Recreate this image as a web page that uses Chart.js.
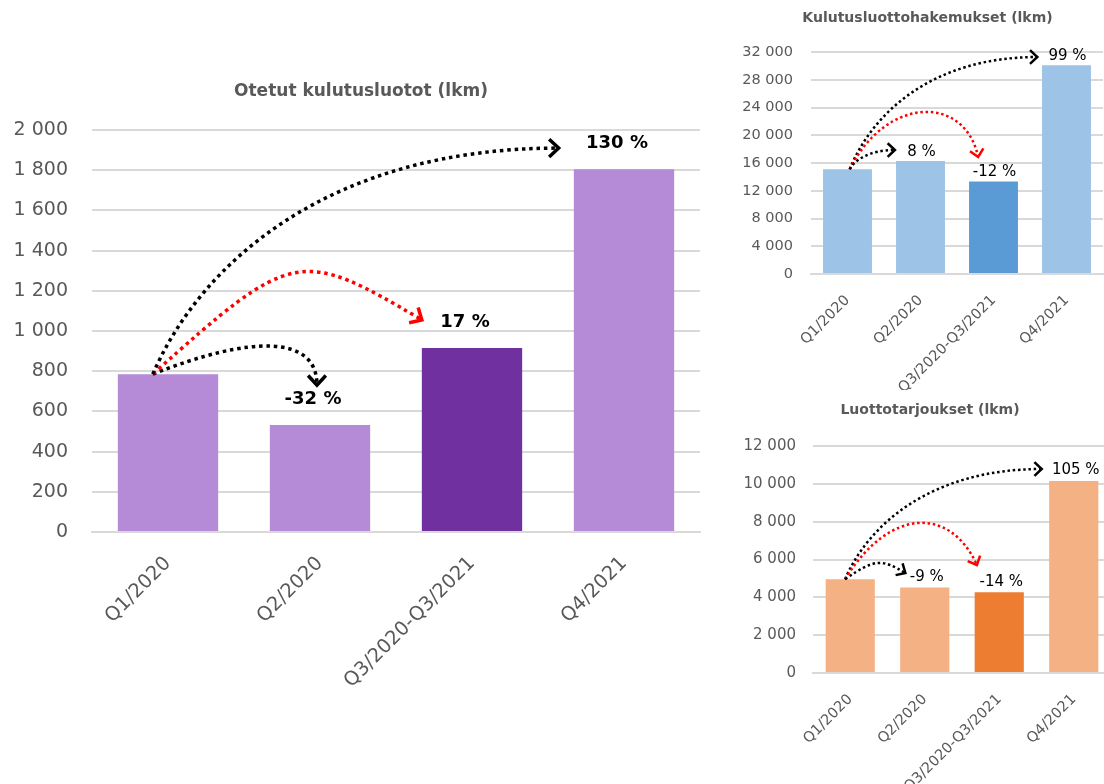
<!DOCTYPE html>
<html>
<head>
<meta charset="utf-8">
<script src="https://cdn.jsdelivr.net/npm/chart.js@4.4.0/dist/chart.umd.min.js"></script>
<style>
  html, body { margin:0; padding:0; background:#fff; overflow:hidden; width:1104px; height:784px; }
  .box { position:absolute; }
</style>
</head>
<body>
<div class="box" style="left:0;top:0;width:720px;height:784px"><canvas id="cOtetut"></canvas></div>
<div class="box" style="left:736px;top:0;width:379px;height:390px"><canvas id="cHakemukset"></canvas></div>
<div class="box" style="left:736px;top:390px;width:379px;height:394px"><canvas id="cTarjoukset"></canvas></div>
<script>
// data
const categories = ['Q1/2020', 'Q2/2020', 'Q3/2020-Q3/2021', 'Q4/2021'];

const otetut = [785, 532, 915, 1805];
const otetutPct = ['', '-32 %', '17 %', '130 %'];

const hakemukset = [15100, 16300, 13350, 30100];
const hakemuksetPct = ['', '8 %', '-12 %', '99 %'];

const tarjoukset = [4960, 4520, 4270, 10150];
const tarjouksetPct = ['', '-9 %', '-14 %', '105 %'];

// arrows: target bar, end point (offset in category widths, value), peak value for arched ones
const otetutArrows = [
  { to: 1, color: '#000', end: [-0.02, 731], peak: 925, a: 0.6, b: 1.0 },
  { to: 2, color: '#ff0000', end: [-0.33, 1055], peak: 1289, a: 0.52, b: 0.55 },
  { to: 3, color: '#000', end: [-0.43, 1910] }
];
const hakemuksetArrows = [
  { to: 3, color: '#000', end: [-0.40, 31280] },
  { to: 2, color: '#ff0000', end: [-0.21, 16865], peak: 23350, a: 0.29, b: 0.9 },
  { to: 1, color: '#000', end: [-0.35, 17870] }
];
const tarjouksetArrows = [
  { to: 3, color: '#000', end: [-0.43, 10784] },
  { to: 2, color: '#ff0000', end: [-0.30, 5709], peak: 7930, a: 0.34, b: 0.8 },
  { to: 1, color: '#000', end: [-0.26, 5286], peak: 5815, a: 0.5, b: 0.6 }
];

const fmt = v => String(v).replace(/\B(?=(\d{3})+(?!\d))/g, ' ');

// chart title placed at its own centre (the excel titles are not centred on the canvas)
const titlePlugin = {
  id: 'ttl',
  afterDraw(chart, args, opts) {
    const ctx = chart.ctx;
    ctx.save();
    ctx.font = opts.font;
    ctx.fillStyle = '#595959';
    ctx.textAlign = 'center';
    ctx.textBaseline = 'middle';
    ctx.fillText(opts.text, opts.x, opts.y);
    ctx.restore();
  }
};

// dotted curved arrows starting from the first bar
const arrowPlugin = {
  id: 'arrows',
  afterDatasetsDraw(chart, args, opts) {
    const ctx = chart.ctx;
    const x = chart.scales.x, y = chart.scales.y;
    const catW = x.getPixelForValue(1) - x.getPixelForValue(0);
    const vals = chart.data.datasets[0].data;
    const s = { x: x.getPixelForValue(0) + opts.startDx * catW, y: y.getPixelForValue(vals[0]) };
    ctx.save();
    opts.list.forEach(ar => {
      const e = { x: x.getPixelForValue(ar.to) + ar.end[0] * catW, y: y.getPixelForValue(ar.end[1]) };
      const dx = e.x - s.x;
      let c1, c2;
      if (ar.peak != null) {
        const py = y.getPixelForValue(ar.peak);
        const h = (8 * py - s.y - e.y) / 6;
        c1 = { x: s.x + ar.a * dx, y: h };
        c2 = { x: s.x + ar.b * dx, y: h };
      } else {
        c1 = { x: s.x + 0.12 * dx, y: s.y - 0.5 * (s.y - e.y) };
        c2 = { x: s.x + 0.44 * dx, y: e.y };
      }
      ctx.strokeStyle = ar.color;
      ctx.lineWidth = opts.lw;
      ctx.lineCap = 'butt';
      ctx.setLineDash([opts.lw, opts.lw * 1.1]);
      ctx.beginPath();
      ctx.moveTo(s.x, s.y);
      ctx.bezierCurveTo(c1.x, c1.y, c2.x, c2.y, e.x, e.y);
      ctx.stroke();
      // open arrow head
      const ang = Math.atan2(e.y - c2.y, e.x - c2.x);
      ctx.setLineDash([]);
      ctx.lineWidth = opts.lw;
      ctx.lineJoin = 'miter';
      ctx.beginPath();
      ctx.moveTo(e.x - opts.head * Math.cos(ang - 0.75), e.y - opts.head * Math.sin(ang - 0.75));
      ctx.lineTo(e.x, e.y);
      ctx.lineTo(e.x - opts.head * Math.cos(ang + 0.75), e.y - opts.head * Math.sin(ang + 0.75));
      ctx.stroke();
    });
    ctx.restore();
  }
};

// percentage labels above the bars
const pctPlugin = {
  id: 'pct',
  afterDatasetsDraw(chart, args, opts) {
    const ctx = chart.ctx;
    const meta = chart.getDatasetMeta(0);
    ctx.save();
    ctx.font = opts.font;
    ctx.fillStyle = '#000';
    ctx.textAlign = 'center';
    ctx.textBaseline = 'middle';
    opts.labels.forEach((t, i) => {
      if (!t) return;
      const bar = meta.data[i];
      ctx.fillText(t, bar.x + opts.dx, bar.y + opts.dy);
    });
    ctx.restore();
  }
};

function makeChart(id, c) {
  return new Chart(document.getElementById(id), {
    type: 'bar',
    data: {
      labels: categories,
      datasets: [{ data: c.values, backgroundColor: c.colors, barPercentage: c.barPct, categoryPercentage: 1 }]
    },
    options: {
      responsive: true, maintainAspectRatio: false, animation: false,
      layout: { padding: { left: 0, right: c.padRight, top: c.top, bottom: 0 } },
      plugins: {
        legend: { display: false },
        tooltip: { enabled: false },
        ttl: c.title,
        arrows: { list: c.arrows, startDx: c.startDx, lw: c.lw, head: c.head },
        pct: { labels: c.pct, font: c.pctFont, dx: c.pctDx, dy: c.pctDy }
      },
      scales: {
        x: {
          grid: { display: false },
          border: { color: '#d9d9d9', width: 2 },
          ticks: {
            color: '#595959', autoSkip: false, minRotation: 45, maxRotation: 45,
            font: { family: 'DejaVu Sans', size: c.xSize }, padding: c.xPad
          },
          afterFit(s) { s.height = c.xHeight; }
        },
        y: {
          min: 0, max: c.max,
          grid: { color: '#d9d9d9', lineWidth: 2, drawTicks: false },
          border: { display: false },
          ticks: {
            stepSize: c.step, color: '#595959', padding: c.yPad,
            font: { family: 'DejaVu Sans', size: c.ySize },
            callback: v => fmt(v)
          },
          afterFit(s) { s.width = c.yWidth; }
        }
      }
    },
    plugins: [arrowPlugin, pctPlugin, titlePlugin]
  });
}

makeChart('cOtetut', {
  values: otetut, pct: otetutPct, arrows: otetutArrows,
  colors: ['#b58ad7', '#b58ad7', '#7030a0', '#b58ad7'], barPct: 0.66,
  title: { text: 'Otetut kulutusluotot (lkm)', font: 'bold 17px "DejaVu Sans"', x: 361, y: 92 },
  top: 130, padRight: 20, yWidth: 92, yPad: 24, ySize: 19, xSize: 19.5, xPad: 12, xHeight: 252,
  max: 2000, step: 200,
  startDx: -0.1, lw: 3.5, head: 13,
  pctFont: 'bold 18px "DejaVu Sans"', pctDx: -7, pctDy: -26
});

makeChart('cHakemukset', {
  values: hakemukset, pct: hakemuksetPct, arrows: hakemuksetArrows,
  colors: ['#9dc3e6', '#9dc3e6', '#5b9bd5', '#9dc3e6'], barPct: 0.67,
  title: { text: 'Kulutusluottohakemukset (lkm)', font: 'bold 14px "DejaVu Sans"', x: 191.5, y: 18 },
  top: 52, padRight: 12, yWidth: 75, yPad: 18, ySize: 14.5, xSize: 14.5, xPad: 10, xHeight: 116,
  max: 32000, step: 4000,
  startDx: 0.03, lw: 2.5, head: 10,
  pctFont: '15px "DejaVu Sans"', pctDx: 1, pctDy: -9
});

makeChart('cTarjoukset', {
  values: tarjoukset, pct: tarjouksetPct, arrows: tarjouksetArrows,
  colors: ['#f4b183', '#f4b183', '#ed7d31', '#f4b183'], barPct: 0.66,
  title: { text: 'Luottotarjoukset (lkm)', font: 'bold 14px "DejaVu Sans"', x: 194, y: 20 },
  top: 56, padRight: 4, yWidth: 77, yPad: 17, ySize: 15, xSize: 14.5, xPad: 10, xHeight: 111,
  max: 12000, step: 2000,
  startDx: -0.07, lw: 2.5, head: 10,
  pctFont: '15px "DejaVu Sans"', pctDx: 2, pctDy: -10.5
});
</script>
</body>
</html>
